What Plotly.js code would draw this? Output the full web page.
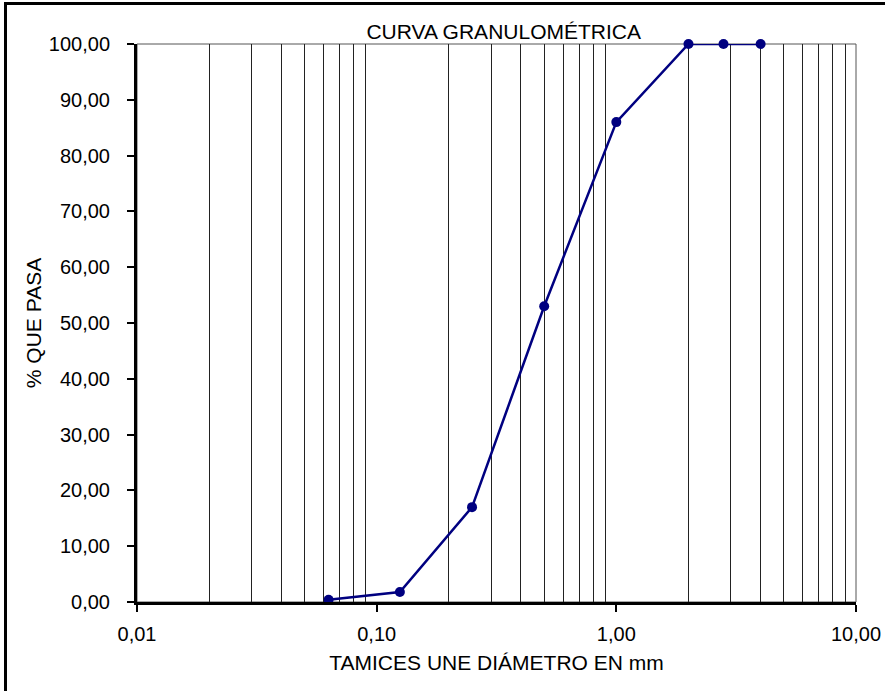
<!DOCTYPE html>
<html>
<head>
<meta charset="utf-8">
<script src="https://cdn.plot.ly/plotly-3.0.1.min.js"></script>
<style>
  html, body { margin: 0; padding: 0; background: #fff; overflow: hidden; }
  #wrap { position: relative; width: 885px; height: 691px; overflow: hidden; }
  #chart { position: absolute; left: 0; top: 0; width: 885px; height: 691px; }
  #frame { position: absolute; left: 4px; top: 2px; width: 1000px; height: 800px;
           border-top: 3px solid #000; border-left: 3px solid #000; pointer-events: none; }
</style>
</head>
<body>
<div id="wrap">
  <div id="chart"></div>
  <div id="frame"></div>
</div>
<script>
// Sieve openings (mm) and percent passing
const diametros = [0.063, 0.125, 0.25, 0.5, 1, 2, 2.8, 4];
const pasa = [0.4, 1.8, 17.0, 53.0, 86.0, 100.0, 100.0, 100.0];

// Axis ticks
const xTickVals = [0.01, 0.1, 1, 10];
const xTickText = ['0,01', '0,10', '1,00', '10,00'];
const xMinorVals = [0.02,0.03,0.04,0.05,0.06,0.07,0.08,0.09,
                    0.2,0.3,0.4,0.5,0.6,0.7,0.8,0.9,
                    2,3,4,5,6,7,8,9];

const FONT = 'Liberation Sans, Arial, sans-serif';

const trace = {
  x: diametros,
  y: pasa,
  type: 'scatter',
  mode: 'lines+markers',
  line: { color: '#000080', width: 2.5 },
  marker: { color: '#000080', size: 10, symbol: 'circle' },
  cliponaxis: false,
  showlegend: false
};

const layout = {
  width: 885,
  height: 691,
  margin: { l: 137, r: 29, t: 44, b: 89 },
  paper_bgcolor: '#fff',
  plot_bgcolor: '#fff',
  separators: ',.',
  font: { family: FONT, size: 20, color: '#000' },
  title: {
    text: 'CURVA GRANULOMÉTRICA',
    font: { family: FONT, size: 21, color: '#000' },
    xref: 'paper', x: 0.51, xanchor: 'center',
    yref: 'paper', y: 1, yanchor: 'bottom',
    pad: { b: 5 }
  },
  xaxis: {
    type: 'log',
    range: [-2, 1],
    tickmode: 'array',
    tickvals: xTickVals,
    ticktext: xTickText,
    ticks: 'outside',
    ticklen: 7,
    tickwidth: 2,
    tickcolor: '#000',
    ticklabelstandoff: 5,
    showgrid: false,
    zeroline: false,
    showline: true,
    linecolor: '#000',
    linewidth: 3,
    tickfont: { family: FONT, size: 20, color: '#000' },
    minor: {
      tickmode: 'array',
      tickvals: xMinorVals,
      ticks: '',
      showgrid: true,
      gridcolor: '#222',
      gridwidth: 1
    },
    title: {
      text: 'TAMICES UNE DIÁMETRO EN mm',
      font: { family: FONT, size: 21, color: '#000' },
      standoff: 12
    },
    automargin: false
  },
  yaxis: {
    range: [0, 100],
    tickmode: 'linear',
    tick0: 0,
    dtick: 10,
    tickformat: '.2f',
    ticks: 'outside',
    ticklen: 7,
    tickwidth: 2,
    tickcolor: '#000',
    ticklabelstandoff: 13,
    showgrid: false,
    zeroline: false,
    showline: true,
    linecolor: '#000',
    linewidth: 3,
    tickfont: { family: FONT, size: 20, color: '#000' },
    title: {
      text: '% QUE PASA',
      font: { family: FONT, size: 21, color: '#000' },
      standoff: 2
    },
    automargin: false
  },
  shapes: [{
    type: 'rect', xref: 'paper', yref: 'paper',
    x0: 0, x1: 1, y0: 0, y1: 1,
    line: { color: '#555', width: 1 },
    layer: 'below'
  }]
};

Plotly.newPlot('chart', [trace], layout, { displayModeBar: false, staticPlot: true });
</script>
</body>
</html>
